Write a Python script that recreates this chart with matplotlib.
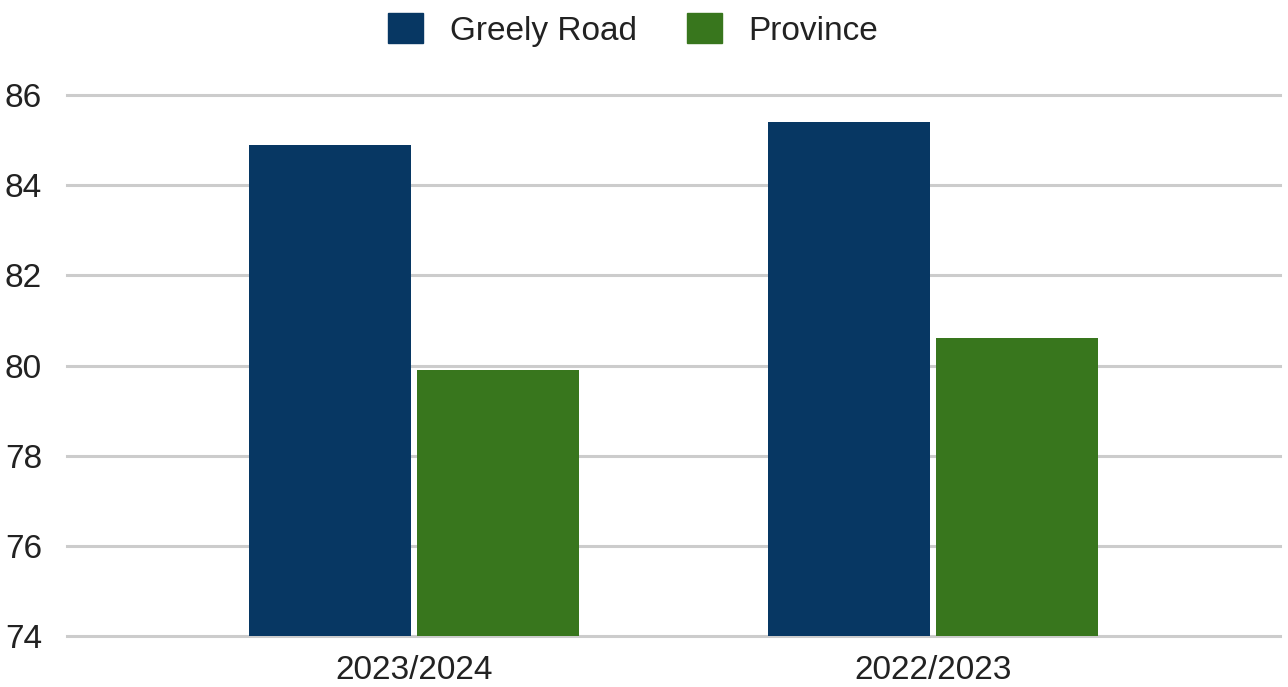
import matplotlib
matplotlib.use("Agg")
import matplotlib.pyplot as plt
import numpy as np
from matplotlib.patches import Patch

categories = ["2023/2024", "2022/2023"]
series_names = ["Greely Road", "Province"]
greely = [84.9, 85.4]
province = [79.9, 80.6]
yticks = [74, 76, 78, 80, 82, 84, 86]
colors = ["#073763", "#38761d"]

plt.rcParams['font.family'] = ['Liberation Sans', 'DejaVu Sans']
fig = plt.figure(figsize=(12.88, 6.87), dpi=100)
ax = fig.add_axes([67/1288, 51/687, (1280-67)/1288, (636-95)/687])

x = np.arange(len(categories))
w = 0.312
gap = 0.0116
ax.bar(x - w/2 - gap/2, greely, width=w, color=colors[0], zorder=3)
ax.bar(x + w/2 + gap/2, province, width=w, color=colors[1], zorder=3)

ax.set_xlim(-0.669, 1.669)
ax.set_ylim(74, 86)
ax.set_yticks(yticks)
ax.set_xticks(x)
ax.set_xticklabels(categories)
ax.yaxis.grid(True, color="#cccccc", linewidth=2.2, zorder=0)
for gl in ax.get_ygridlines():
    gl.set_clip_on(False)
ax.set_axisbelow(True)
for s in ax.spines.values():
    s.set_visible(False)
ax.tick_params(axis='both', length=0, labelsize=24, colors="#222222")
ax.tick_params(axis='y', pad=18)
ax.tick_params(axis='x', pad=14)

handles = [Patch(facecolor=c, edgecolor=c) for c in colors]
fig.legend(handles, series_names, loc="center", bbox_to_anchor=(633/1288, 1 - 30/687),
           ncol=2, frameon=False, fontsize=24, handlelength=1.05, handleheight=1.0,
           handletextpad=0.8, columnspacing=1.5, labelcolor="#222222")

fig.savefig("out.png", dpi=100)
